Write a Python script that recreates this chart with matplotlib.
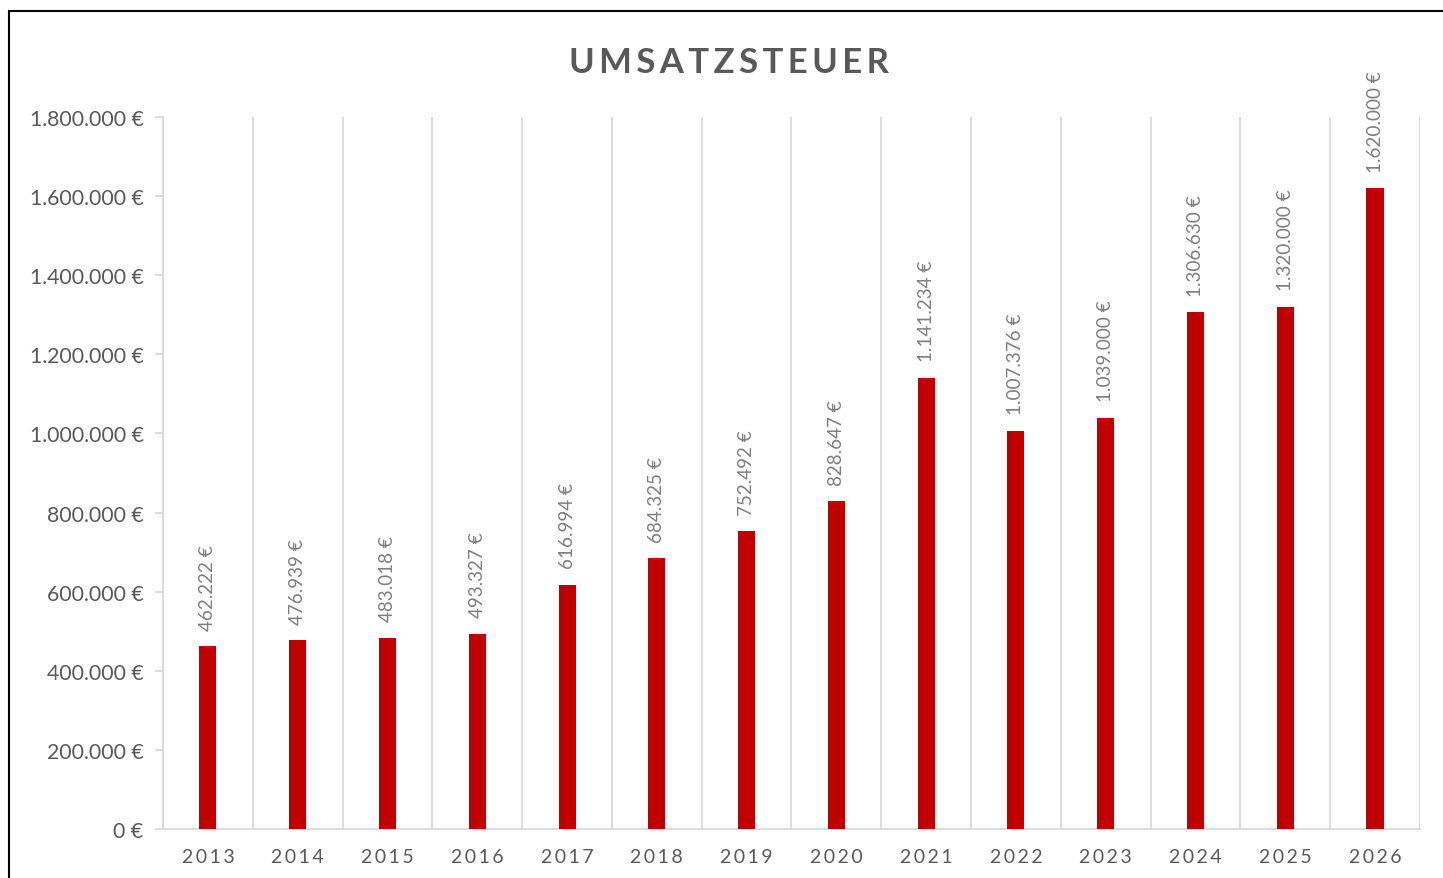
import matplotlib.pyplot as plt
from matplotlib.patches import Rectangle
from matplotlib.ticker import FuncFormatter

# chart data
years = ['2013', '2014', '2015', '2016', '2017', '2018', '2019',
         '2020', '2021', '2022', '2023', '2024', '2025', '2026']
umsatzsteuer = [462222, 476939, 483018, 493327, 616994, 684325, 752492,
                828647, 1141234, 1007376, 1039000, 1306630, 1320000, 1620000]
y_ticks = [0, 200000, 400000, 600000, 800000, 1000000,
           1200000, 1400000, 1600000, 1800000]


def euro(v):
    # German thousands separator
    return f"{int(round(v)):,}".replace(',', '.') + ' €'


plt.rcParams['font.family'] = ['Lato', 'DejaVu Sans']

fig = plt.figure(figsize=(14.43, 8.79), dpi=100)
ax = fig.add_axes([0.113, 0.0557, 0.871, 0.81])

# frame around the chart (cut by the image at right and bottom)
fig.patches.append(Rectangle((9 / 1443, -0.5), 2, 0.5 + 1 - 12 / 879,
                             transform=fig.transFigure, fill=False,
                             edgecolor='black', linewidth=1.5))

x = list(range(len(years)))
ax.bar(x, umsatzsteuer, width=0.19, color='#C00000', zorder=3)

# vertical gridlines between categories
for i in range(len(years) + 1):
    ax.axvline(i - 0.5, color='#D9D9D9', linewidth=1.3, zorder=1)

for xi, v in zip(x, umsatzsteuer):
    ax.annotate(euro(v), (xi, v), xytext=(0, 12), textcoords='offset points',
                rotation=90, ha='center', va='bottom', fontsize=13.6,
                color='#7F7F7F', clip_on=False)

ax.set_xlim(-0.5, len(years) - 0.5)
ax.set_ylim(0, 1800000)
ax.set_yticks(y_ticks)
ax.yaxis.set_major_formatter(FuncFormatter(lambda v, p: euro(v)))
ax.set_xticks(x)
ax.set_xticklabels(['\u2009'.join(y) for y in years])

for s in ['top', 'right']:
    ax.spines[s].set_visible(False)
ax.spines['left'].set_color('#D9D9D9')
ax.spines['bottom'].set_color('#D9D9D9')
ax.spines['left'].set_linewidth(1.3)
ax.spines['bottom'].set_linewidth(1.3)
ax.tick_params(axis='y', colors='#D9D9D9', labelcolor='#595959',
               labelsize=15.3, length=6, width=1.3, pad=8)
ax.tick_params(axis='x', length=0, labelcolor='#595959', labelsize=14, pad=14)

fig.text(0.505, 0.928, '\u2009'.join('UMSATZSTEUER'), ha='center', va='center',
         fontsize=25, fontweight='bold', color='#595959')

fig.savefig('out.png', dpi=100)
